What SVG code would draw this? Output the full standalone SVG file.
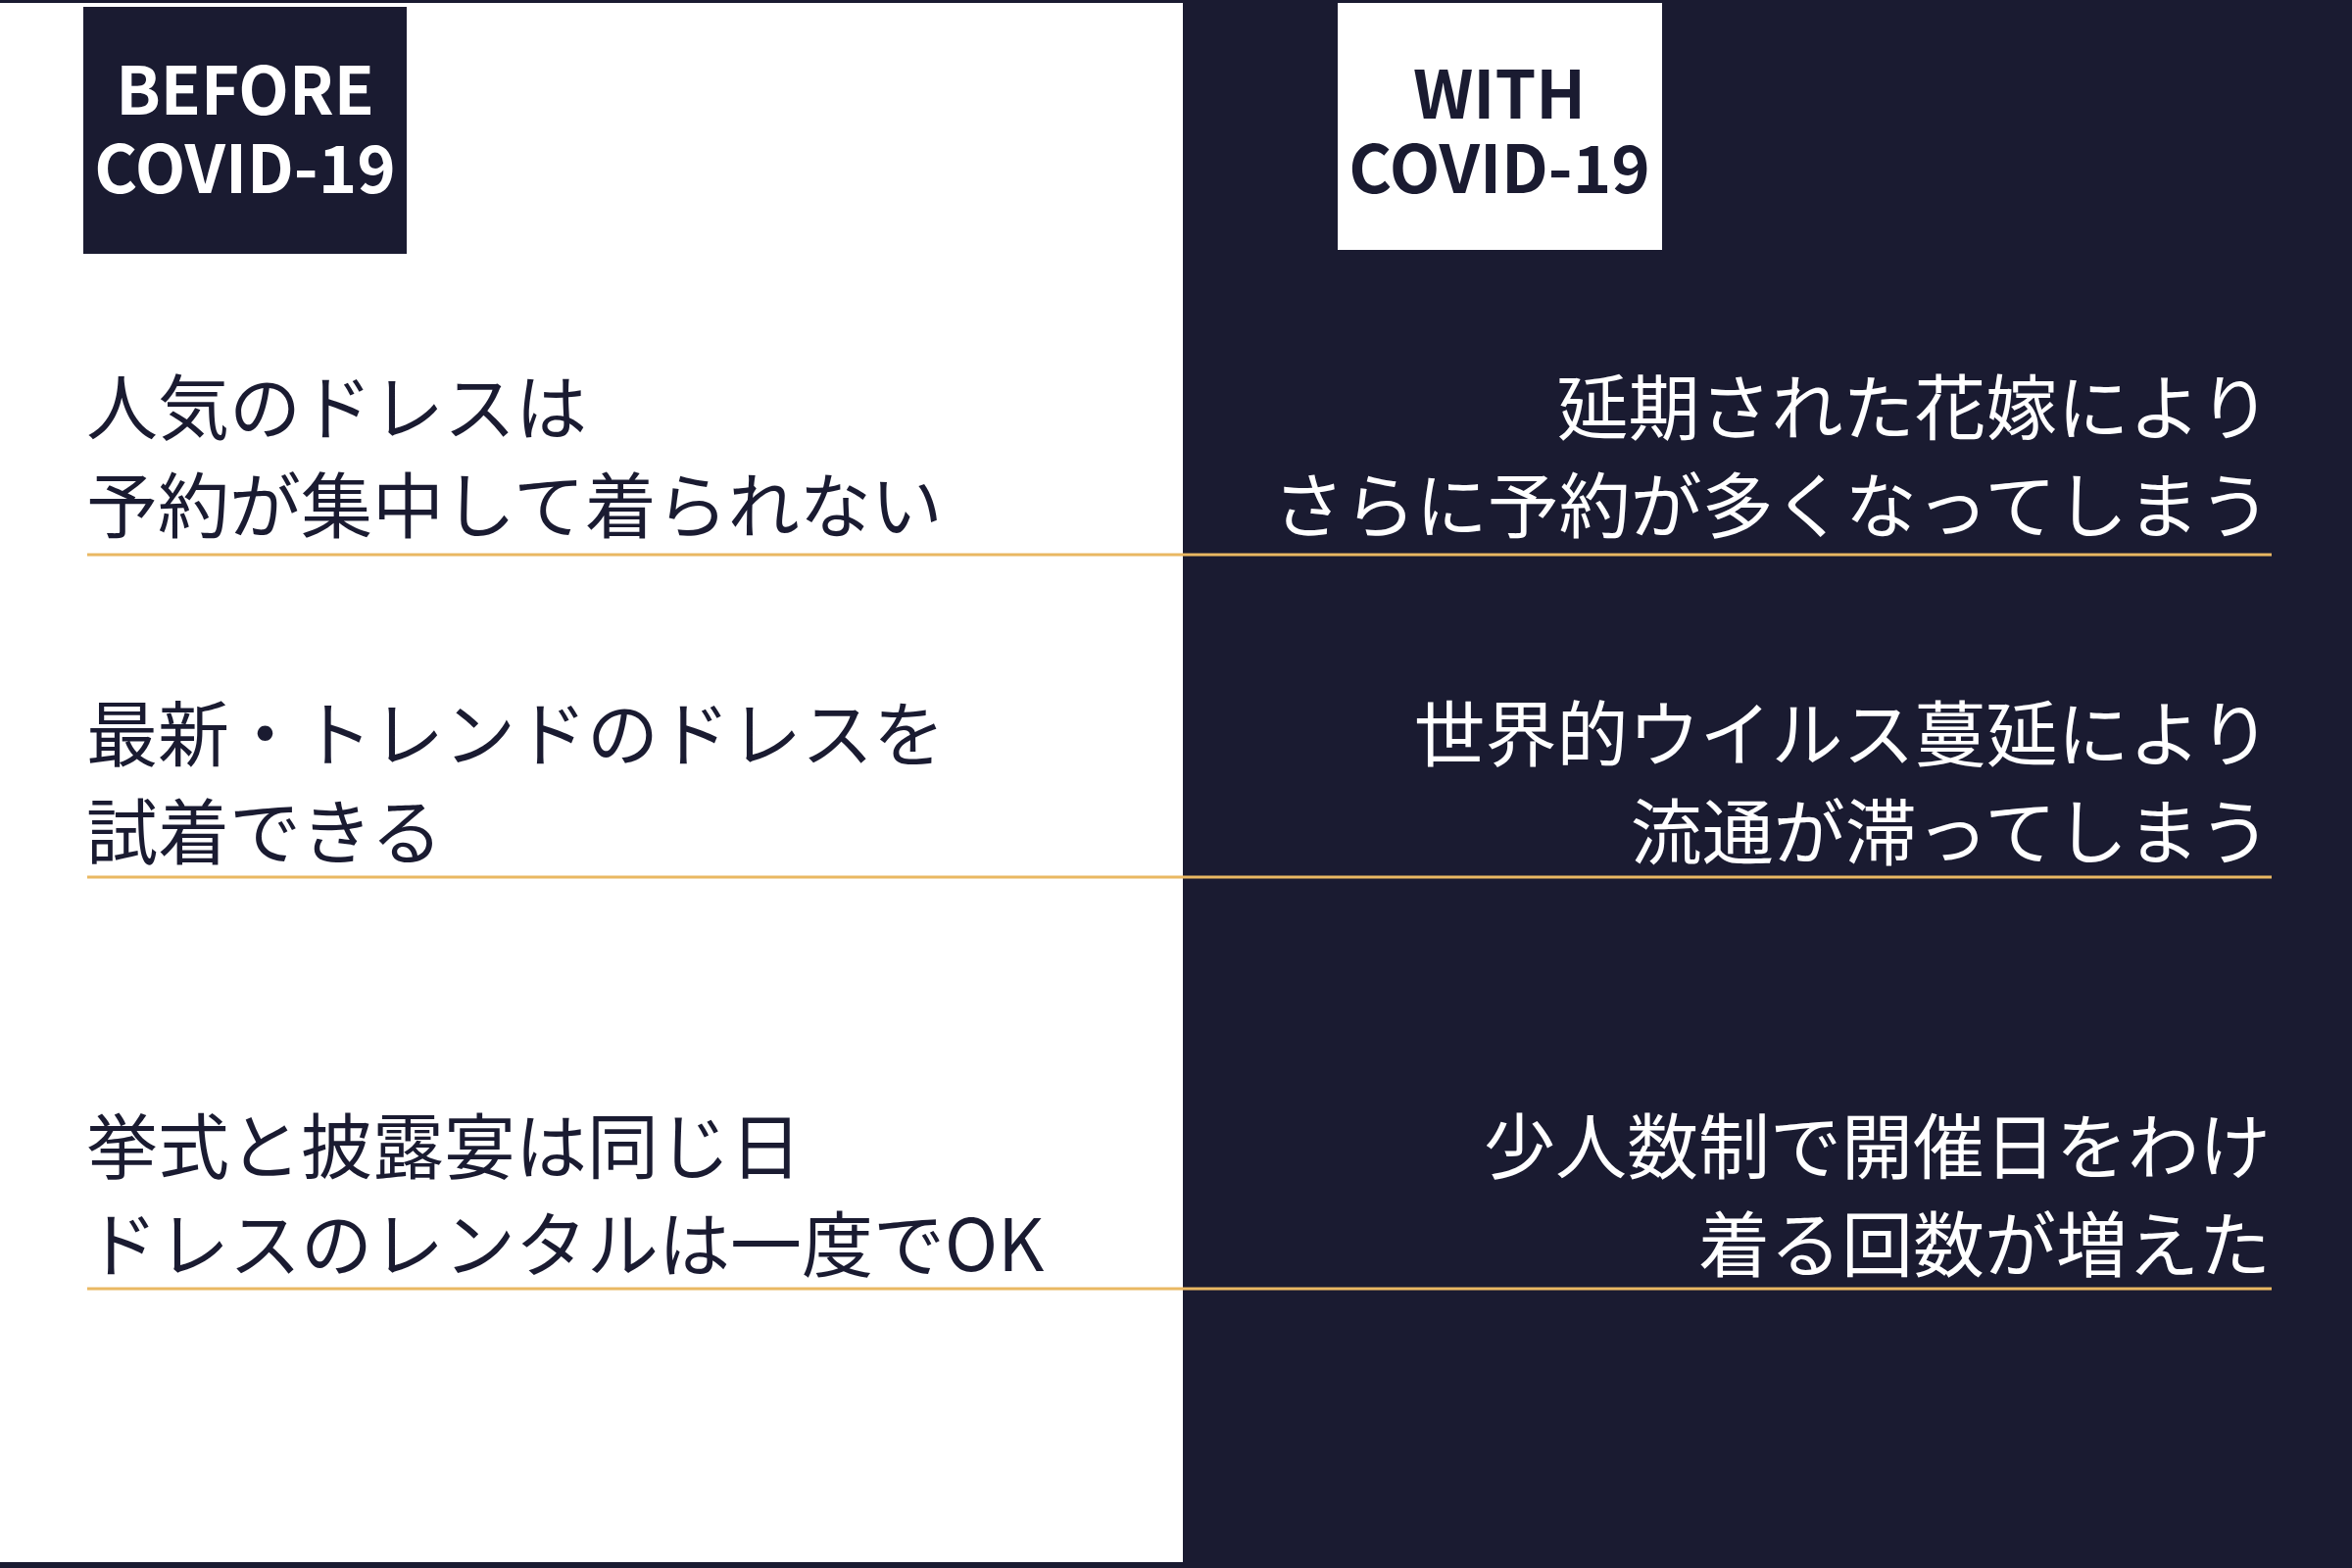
<svg xmlns="http://www.w3.org/2000/svg" width="2400" height="1600" viewBox="0 0 2400 1600">
  <style>
    .head { font-family: "Noto Sans CJK JP", "Noto Sans", sans-serif; font-weight: 700; font-size: 67px; text-anchor: middle; }
    .body { font-family: "Noto Sans CJK JP", "Noto Sans CJK SC", sans-serif; font-weight: 400; font-size: 73px; }
    .left { fill: #1a1b31; }
    .right { fill: #ffffff; text-anchor: end; }
    .rule { stroke: #e9b862; stroke-width: 3; fill: none; }
  </style>
  <rect x="0" y="0" width="2400" height="1600" fill="#1a1b31"/>
  <rect x="0" y="3" width="1207" height="1591" fill="#ffffff"/>

  <g id="before-header">
    <rect x="85" y="7" width="330" height="252" fill="#1a1b31"/>
    <text class="head" x="250" y="117" fill="#ffffff">BEFORE</text>
    <text class="head" x="250" y="197" fill="#ffffff">COVID-19</text>
  </g>
  <g id="with-header">
    <rect x="1365" y="3" width="331" height="252" fill="#ffffff"/>
    <text class="head" x="1530" y="121" fill="#1a1b31">WITH</text>
    <text class="head" x="1530" y="197" fill="#1a1b31">COVID-19</text>
  </g>

  <g id="connectors">
    <line class="rule" x1="89" y1="566" x2="2318" y2="566"/>
    <line class="rule" x1="89" y1="895" x2="2318" y2="895"/>
    <line class="rule" x1="89" y1="1315" x2="2318" y2="1315"/>
  </g>

  <g id="before-1">
    <text class="body left" x="88" y="443">人気のドレスは</text>
    <text class="body left" x="88" y="543">予約が集中して着られない</text>
  </g>
  <g id="with-1">
    <text class="body right" x="2317" y="443">延期された花嫁により</text>
    <text class="body right" x="2317" y="543">さらに予約が多くなってしまう</text>
  </g>
  <g id="before-2">
    <text class="body left" x="88" y="776">最新・トレンドのドレスを</text>
    <text class="body left" x="88" y="876">試着できる</text>
  </g>
  <g id="with-2">
    <text class="body right" x="2317" y="776">世界的ウイルス蔓延により</text>
    <text class="body right" x="2317" y="876">流通が滞ってしまう</text>
  </g>
  <g id="before-3">
    <text class="body left" x="88" y="1197">挙式と披露宴は同じ日</text>
    <text class="body left" x="88" y="1297">ドレスのレンタルは一度でOK</text>
  </g>
  <g id="with-3">
    <text class="body right" x="2317" y="1197">少人数制で開催日をわけ</text>
    <text class="body right" x="2317" y="1297">着る回数が増えた</text>
  </g>
</svg>
